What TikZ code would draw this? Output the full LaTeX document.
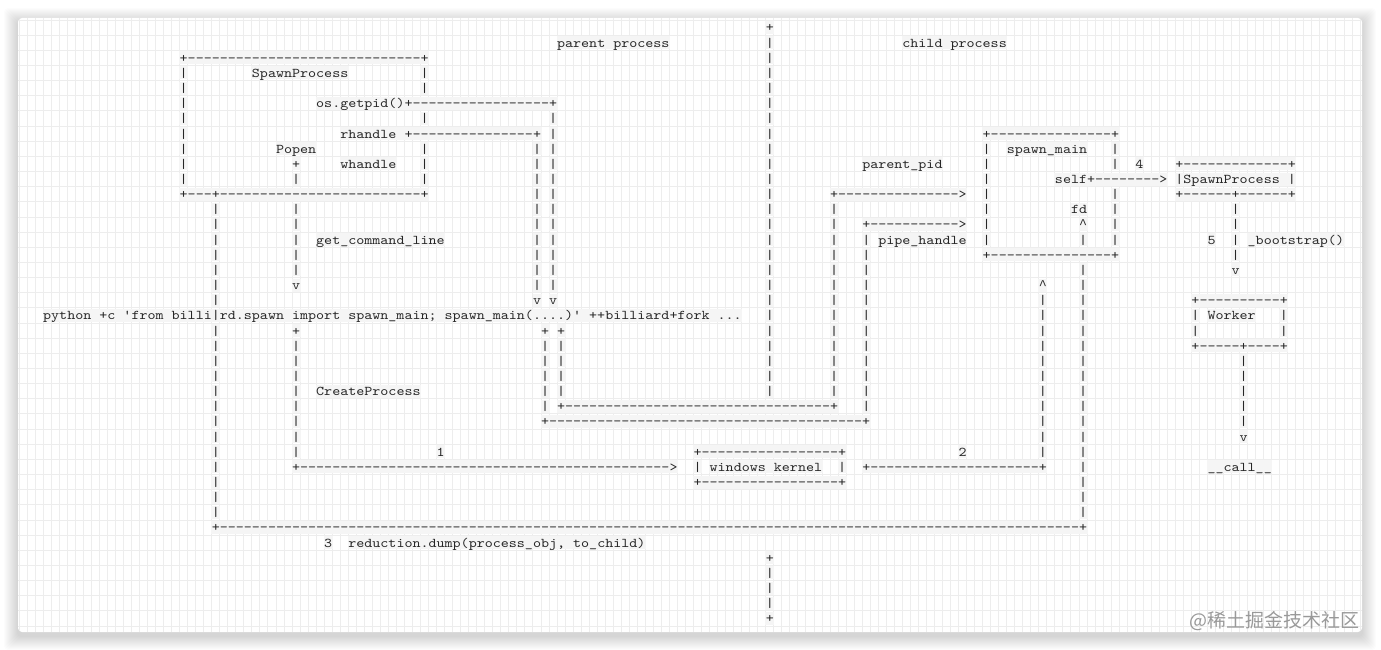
\documentclass[tikz,border=0pt]{standalone}
\usepackage{fontspec}
\setmonofont[FakeStretch=1.142857]{lmmono10-regular.otf}
\newfontfamily\cjk{Noto Sans CJK SC}
\newfontfamily\caretfont{Liberation Mono}
\ExplSyntaxOn
\cs_new_eq:NN \Rep \prg_replicate:nn
\ExplSyntaxOff
\newcounter{tk}
\def\cw{8.03}
\def\lh{15.15}
\def\ox{42.485}
\def\gx{42.985}
\def\oy{32}
\newcommand\monof{\fontsize{13.383pt}{15pt}\ttfamily\selectfont\spaceskip=8.03pt\relax\xspaceskip=8.03pt\relax}
\newcommand\caret{\makebox[8.03pt]{\caretfont\fontsize{13.383pt}{15pt}\selectfont\string^}}
\tikzset{
  tok/.style={anchor=base west, inner xsep=0.5pt, inner ysep=0pt, text height=11pt, text depth=2pt, fill=black!4, text=black!85, font=\monof},
  gridc/.style={draw=black!7, line width=0.7pt},
}
\newcommand\T[3]{\stepcounter{tk}\node[tok] (t\thetk) at ({\ox+#2*\cw},{\oy+#1*\lh}) {#3};}
\newcommand\V[3]{\foreach \rr in {#2,...,#3}{\T{\rr}{#1}{|}}}
\begin{document}
\begin{tikzpicture}[x=1pt,y=-1pt]
\useasboundingbox (0,0) rectangle (1381,650);
\fill[white] (0,0) rectangle (1381,650);
\foreach \i in {1,...,14}{\fill[black,opacity=0.01,rounded corners=4pt] ({18-\i},{18-\i+4}) rectangle ({1362+\i},{632+\i+4});}
\fill[white, rounded corners=4pt] (18,18) rectangle (1362,632);
\begin{scope}
\clip[rounded corners=4pt] (18,18) rectangle (1362,632);
\foreach \k in {-3,...,165} \draw[gridc] ({\gx+\k*\cw},18) -- ({\gx+\k*\cw},632);
\foreach \k in {0,...,41} \draw[gridc] (18,{19.925+\k*\lh}) -- (1362,{19.925+\k*\lh});
\end{scope}
% ---- vertical runs
\V{17}{3}{10}
\V{47}{3}{4} \T{6}{47}{|} \V{47}{8}{10}
\T{0}{90}{+} \V{90}{1}{24} \T{35}{90}{+} \V{90}{36}{38} \T{39}{90}{+}
\V{63}{6}{17} \T{18}{63}{v}
\V{61}{8}{17} \T{18}{61}{v}
\T{9}{31}{+} \T{10}{31}{|} \V{31}{12}{16} \T{17}{31}{v}
\T{20}{31}{+} \V{31}{21}{28}
\V{21}{12}{18} \V{21}{20}{32}
\T{20}{62}{+} \V{62}{21}{25}
\T{20}{64}{+} \V{64}{21}{24}
\V{98}{12}{24}
\V{102}{14}{25}
\V{117}{8}{14}
\V{133}{8}{9} \V{133}{11}{14}
\T{13}{129}{\caret} \T{14}{129}{|} \V{129}{16}{32}
\T{17}{124}{\caret} \V{124}{18}{28}
\V{148}{12}{15} \T{16}{148}{v}
\V{143}{19}{20} \V{154}{19}{20}
\V{149}{22}{26} \T{27}{149}{v}
% ---- horizontal runs
\T{2}{17}{+\Rep{29}{-}+}
\T{5}{34}{os.getpid()+\Rep{17}{-}+}
\T{7}{37}{rhandle +\Rep{15}{-}+}
\T{7}{117}{+\Rep{15}{-}+}
\T{9}{141}{+\Rep{13}{-}+}
\T{10}{126}{self+\Rep{8}{-}>}
\T{10}{141}{|SpawnProcess |}
\T{11}{17}{+\Rep{3}{-}+\Rep{25}{-}+}
\T{11}{98}{+\Rep{15}{-}>}
\T{11}{141}{+\Rep{6}{-}+\Rep{6}{-}+}
\T{13}{102}{+\Rep{11}{-}>}
\T{15}{117}{+\Rep{15}{-}+}
\T{18}{143}{+\Rep{10}{-}+}
\T{21}{143}{+\Rep{5}{-}+\Rep{4}{-}+}
\T{25}{64}{+\Rep{33}{-}+}
\T{26}{62}{+\Rep{39}{-}+}
\T{28}{81}{+\Rep{17}{-}+}
\T{29}{31}{+\Rep{46}{-}>}
\T{29}{102}{+\Rep{21}{-}+}
\T{30}{81}{+\Rep{17}{-}+}
\T{33}{21}{+\Rep{107}{-}+}
% ---- texts
\T{1}{64}{parent process}
\T{1}{107}{child process}
\T{3}{26}{SpawnProcess}
\T{8}{29}{Popen}
\T{8}{120}{spawn\_main}
\T{9}{37}{whandle}
\T{9}{102}{parent\_pid}
\T{9}{136}{4}
\T{12}{128}{fd}
\T{14}{34}{get\_command\_line}
\T{14}{104}{pipe\_handle}
\T{14}{145}{5}
\T{14}{150}{\_bootstrap()}
\T{19}{0}{python +c 'from billi|rd.spawn import spawn\_main; spawn\_main(....)' ++billiard+fork ...}
\T{19}{145}{Worker}
\T{24}{34}{CreateProcess}
\T{28}{49}{1}
\T{28}{114}{2}
\T{29}{81}{|}
\T{29}{83}{windows kernel}
\T{29}{99}{|}
\T{29}{145}{\_\_call\_\_}
\T{34}{35}{3}
\T{34}{38}{reduction.dump(process\_obj, to\_child)}
\node[font=\cjk\fontsize{19pt}{19pt}\selectfont, text=black!40, anchor=east, inner sep=0pt] (wm) at (1360,621) {@稀土掘金技术社区};
\end{tikzpicture}
\end{document}
